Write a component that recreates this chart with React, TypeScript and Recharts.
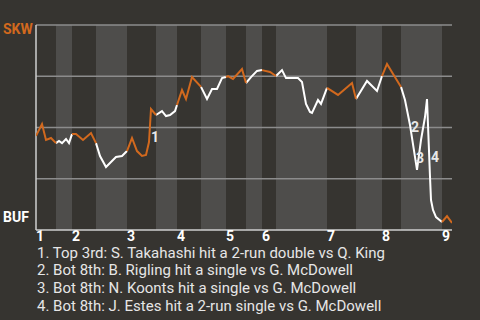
import React from 'react';
import { ComposedChart, Line, XAxis, YAxis, ReferenceArea, ReferenceLine, ReferenceDot } from 'recharts';

// game progress (plays) and SKW win probability after each play
const progress = [
  0, 6, 10, 15, 20,
  23, 26, 30, 33, 36,
  40, 47, 55, 60,
  64, 70, 75, 80, 86, 91,
  96, 101, 106, 110, 113, 115, 120,
  126, 130, 134, 139, 141,
  146, 150, 156, 165,
  171, 176, 181, 186, 190,
  192, 197, 206, 210,
  215, 221, 226,
  234, 240,
  246, 250, 262, 266, 270, 274, 276, 282, 285, 291,
  302, 316, 320,
  331, 341, 346,
  351, 365,
  369, 374, 381, 385, 389, 391, 394, 395, 397, 400, 406,
  411, 416,
];
const skwWinPct = [
  45.9, 51.7, 43.9, 44.9, 42.4,
  43.4, 42.4, 44.4, 42.4, 46.8,
  46.8, 43.9, 47.3, 42.4,
  36.1, 30.7, 33.2, 35.6, 36.1, 38.5,
  44.9, 38.5, 36.1, 36.6, 42.9, 59.0, 56.1,
  58.0, 55.6, 56.1, 58.0, 61.0,
  68.3, 63.9, 74.6, 69.8,
  63.9, 68.8, 68.8, 74.1, 74.6,
  75.1, 73.7, 78.5, 71.7,
  74.6, 77.6, 78.0,
  77.1, 75.1,
  78.0, 74.1, 74.1, 72.2, 61.5, 57.6, 57.1, 63.4, 61.5, 69.3,
  65.9, 71.7, 63.9,
  72.7, 67.8, 75.1,
  81.0, 69.8,
  63.4, 51.2, 29.3, 43.9, 55.1, 63.9, 25.9, 14.6, 9.8, 6.3, 3.9,
  6.8, 3.4,
];

// half-inning boundaries (top 1, bot 1, top 2, ...)
const halfInningStarts = [0, 20, 36, 60, 91, 120, 141, 165, 190, 210, 226, 240, 291, 320, 346, 365, 406];
const gameEnd = 416;
const inningLabels = ['1', '2', '3', '4', '5', '6', '7', '8', '9'];

// key play markers
const noteIds = ['1', '2', '3', '4'];
const noteX = [119, 379, 384, 399];
const noteY = [45.4, 50.2, 35.1, 35.6];
const noteText = [
  '1. Top 3rd: S. Takahashi hit a 2-run double vs Q. King',
  '2. Bot 8th: B. Rigling hit a single vs G. McDowell',
  '3. Bot 8th: N. Koonts hit a single vs G. McDowell',
  '4. Bot 8th: J. Estes hit a 2-run single vs G. McDowell',
];

const BG = '#363430';
const BAND = '#4e4d4b';
const ORANGE = '#d2691e';
const FONT = 'Roboto, sans-serif';

const halves = halfInningStarts.map((s, i) => ({
  start: s,
  end: i + 1 < halfInningStarts.length ? halfInningStarts[i + 1] : gameEnd,
  top: i % 2 === 0,
}));

const chartData = progress.map((x, i) => {
  const inTop = halves.some(h => h.top && x >= h.start && x <= h.end);
  const inBot = halves.some(h => !h.top && x >= h.start && x <= h.end);
  return { x, top: inTop ? skwWinPct[i] : null, bot: inBot ? skwWinPct[i] : null };
});

const inningTicks = halfInningStarts.filter((_, i) => i % 2 === 0);

const InningTick = (props: any) => {
  const { x, index } = props;
  return (
    <text x={x} y={241} fill="#ffffff" fontSize={14} fontWeight={700} fontFamily={FONT} textAnchor="start">
      {inningLabels[index]}
    </text>
  );
};

export default function App() {
  return (
    <div style={{ position: 'absolute', left: 0, top: 0, width: 480, height: 320, background: BG, fontFamily: FONT }}>
      <ComposedChart width={480} height={320} data={chartData} margin={{ top: 25, right: 28, left: 36, bottom: 70 }}>
        <XAxis
          dataKey="x"
          type="number"
          domain={[0, gameEnd]}
          ticks={inningTicks}
          tick={<InningTick />}
          tickLine={false}
          axisLine={{ stroke: '#cfcfcf', strokeWidth: 1.5 }}
          height={20}
          interval={0}
          allowDataOverflow
        />
        <YAxis hide domain={[0, 100]} type="number" />
        {halves.filter(h => !h.top).map((h, i) => (
          <ReferenceArea key={i} x1={h.start} x2={h.end} y1={0} y2={100} fill={BAND} fillOpacity={1} stroke="none" />
        ))}
        {[25, 50, 75, 100].map(v => (
          <ReferenceLine key={v} y={v} stroke="#8c8c8c" strokeWidth={1.5} />
        ))}
        <ReferenceLine x={0} stroke="#cfcfcf" strokeWidth={1.5} />
        <Line dataKey="bot" stroke="#ffffff" strokeWidth={2} dot={false} isAnimationActive={false} connectNulls={false} type="linear" />
        <Line dataKey="top" stroke={ORANGE} strokeWidth={2} dot={false} isAnimationActive={false} connectNulls={false} type="linear" />
        {noteIds.map((id, i) => (
          <ReferenceDot
            key={id}
            x={noteX[i]}
            y={noteY[i]}
            r={0}
            shape={(p: any) => (
              <text x={p.cx} y={p.cy} dy={5} textAnchor="middle" fill="#e8e8e8" fontSize={14} fontWeight={700} fontFamily={FONT}>
                {id}
              </text>
            )}
          />
        ))}
      </ComposedChart>
      <div style={{ position: 'absolute', left: 3, top: 21, color: ORANGE, fontSize: 14, fontWeight: 700 }}>SKW</div>
      <div style={{ position: 'absolute', left: 3, top: 209, color: '#ffffff', fontSize: 14, fontWeight: 700 }}>BUF</div>
      <div style={{ position: 'absolute', left: 37, top: 245.5, color: '#e6e6e6', fontSize: 15 }}>
        {noteText.map(t => (
          <div key={t} style={{ lineHeight: '15px', marginBottom: 2.7 }}>{t}</div>
        ))}
      </div>
    </div>
  );
}
